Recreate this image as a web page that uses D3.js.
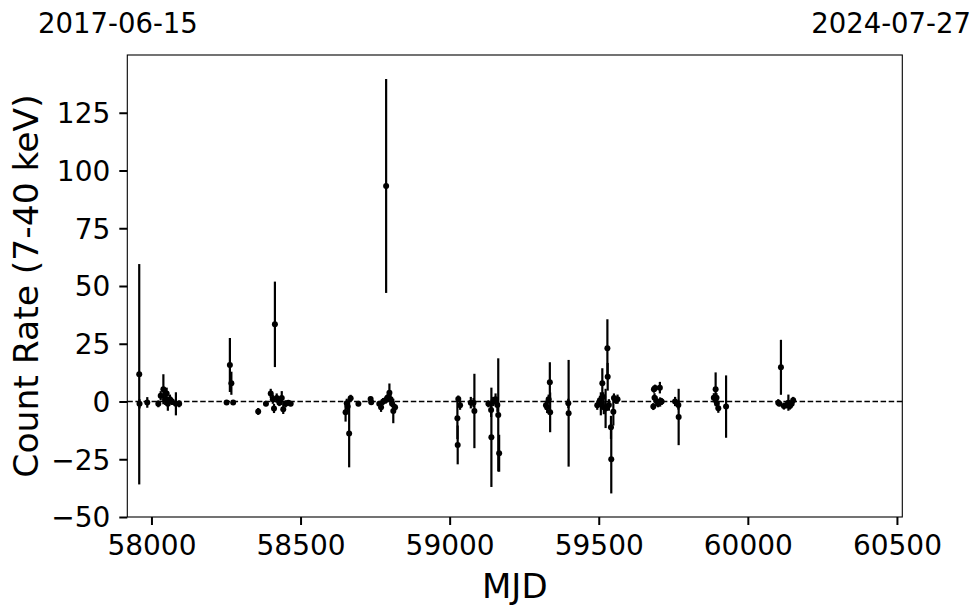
<!DOCTYPE html>
<html>
<head>
<meta charset="utf-8">
<script src="https://cdn.jsdelivr.net/npm/d3@7"></script>
<style>
  html, body { margin: 0; padding: 0; background: #fff; }
  svg { display: block; font-family: "DejaVu Sans", sans-serif; }
</style>
</head>
<body>
<svg id="chart" width="980" height="613"></svg>
<script>
// ---- data ----
const mjd = [
  57959, 57960, 57986, 58023, 58031, 58040, 58046, 58051, 58055, 58062, 58069, 58082, 58093,
  58252, 58263, 58268, 58274,
  58358, 58384, 58400, 58407, 58411, 58414, 58420, 58429, 58437, 58442, 58450, 58459, 58467,
  58651, 58655, 58658, 58663, 58668, 58694,
  58735, 58737, 58764, 58770, 58777, 58787, 58786, 58791, 58798, 58802, 58807, 58811, 58817,
  59026, 59027, 59029, 59035, 59071, 59080, 59083,
  59130, 59139, 59140, 59146, 59154, 59160, 59163, 59166,
  59323, 59327, 59332, 59336, 59337, 59398, 59399,
  59495, 59504, 59507, 59512, 59515, 59517, 59523, 59529, 59530, 59534, 59541, 59542, 59549, 59551, 59558, 59563,
  59683, 59685, 59687, 59689, 59694, 59699, 59705, 59706, 59711, 59756, 59767, 59768,
  59886, 59892, 59895, 59896, 59901, 59927,
  60102, 60106, 60111, 60121, 60130, 60136, 60141, 60147, 60152
];
const rate = [
  11.8, -1.0, -0.4, -1.0, 2.5, 5.3, 1.0, 3.5, -1.0, 1.0, 0.0, -1.0, -1.0,
  -0.4, 15.8, 7.9, -0.4,
  -4.3, -1.0, 3.5, 1.0, -3.0, 33.4, 1.5, -0.5, 1.5, -3.4, -1.0, -0.5, -1.0,
  -4.7, -0.8, -2.2, -13.8, 1.4, -1.0,
  1.1, -0.3, -1.0, -2.5, 0.0, 93.3, 0.6, 1.6, 3.8, 1.0, -1.0, -4.1, -2.5,
  -7.3, -18.8, 1.1, -1.6, -0.5, -0.5, -4.1,
  -1.0, -3.7, -15.5, 0.0, 1.0, -1.5, -5.8, -22.4,
  -1.6, -2.5, 1.0, 8.3, -4.7, -0.8, -5.1,
  -1.6, 0.5, -1.0, 7.9, 2.0, -2.5, -3.0, 23.0, 10.7, -1.5, -11.2, -25.0, -4.4, 1.5, 0.5, 1.0,
  -2.2, 5.3, 1.6, 5.8, 0.2, -1.0, 6.0, -0.2, 0.0, 0.0, -1.5, -6.7,
  1.6, 5.3, 1.6, -0.7, -2.9, -2.2,
  -0.5, -1.0, 14.8, -2.0, -1.5, -0.5, -2.0, -1.0, 0.5
];
const rateErr = [
  47.7, 2.0, 2.3, 1.5, 2.0, 6.5, 2.5, 2.5, 3.0, 2.0, 1.5, 5.0, 1.5,
  1.0, 11.7, 5.0, 1.0,
  1.5, 1.0, 2.0, 2.0, 2.0, 18.5, 2.0, 1.5, 3.0, 2.0, 1.5, 1.0, 1.0,
  4.0, 2.0, 2.5, 14.7, 1.5, 1.0,
  1.0, 1.0, 1.0, 2.0, 1.5, 46.3, 1.5, 1.5, 4.0, 2.0, 1.5, 5.3, 1.5,
  9.0, 8.4, 1.5, 2.0, 2.5, 2.0, 16.1,
  1.5, 3.0, 21.5, 2.0, 2.5, 3.0, 24.5, 8.0,
  2.0, 2.5, 2.0, 8.7, 8.6, 2.0, 23.1,
  2.0, 2.0, 5.0, 6.5, 2.0, 3.0, 8.5, 12.6, 6.0, 2.5, 5.0, 14.8, 6.0, 2.0, 1.5, 2.0,
  1.5, 1.5, 2.0, 1.5, 2.0, 1.5, 2.5, 2.0, 1.5, 2.0, 2.0, 12.2,
  2.0, 7.3, 2.0, 2.0, 2.0, 13.5,
  1.5, 1.0, 11.9, 1.5, 1.5, 3.5, 1.5, 1.5, 1.5
];
const xTicks = [58000, 58500, 59000, 59500, 60000, 60500];
const yTicks = [-50, -25, 0, 25, 50, 75, 100, 125];
const xDomain = [57919, 60518];
const yDomain = [-50, 150];
const startLabel = "2017-06-15";
const endLabel = "2024-07-27";
const xLabel = "MJD";
const yLabel = "Count Rate (7-40 keV)";

(function draw() {
  // ---- layout ----
  const pL = 127.3, pR = 902.3, pT = 55, pB = 517;
  const svg = d3.select("#chart");

  const x = d3.scaleLinear().domain(xDomain).range([pL, pR]);
  const y = d3.scaleLinear().domain(yDomain).range([pB, pT]);

  const points = mjd.map((m, i) => ({ m, r: rate[i], e: rateErr[i] }));

  // zero line
  svg.append("line")
    .attr("x1", pL).attr("x2", pR)
    .attr("y1", y(0)).attr("y2", y(0))
    .attr("stroke", "#000").attr("stroke-width", 1.6)
    .attr("stroke-dasharray", "5.5,2.6");

  // error bars
  svg.append("g").selectAll("line").data(points).join("line")
    .attr("x1", d => x(d.m)).attr("x2", d => x(d.m))
    .attr("y1", d => y(d.r - d.e)).attr("y2", d => y(d.r + d.e))
    .attr("stroke", "#000").attr("stroke-width", 2.2);

  // markers
  svg.append("g").selectAll("circle").data(points).join("circle")
    .attr("cx", d => x(d.m)).attr("cy", d => y(d.r))
    .attr("r", 3).attr("fill", "#000");

  // frame
  svg.append("rect")
    .attr("x", pL).attr("y", pT)
    .attr("width", pR - pL).attr("height", pB - pT)
    .attr("fill", "none").attr("stroke", "#000").attr("stroke-width", 1.1);

  // axes
  const xAxis = d3.axisBottom(x).tickValues(xTicks).tickSize(8).tickPadding(5).tickFormat(d3.format("d"));
  const yAxis = d3.axisLeft(y).tickValues(yTicks).tickSize(8).tickPadding(5).tickFormat(d3.format("d"));

  const gx = svg.append("g").attr("transform", `translate(0,${pB})`).call(xAxis);
  const gy = svg.append("g").attr("transform", `translate(${pL},0)`).call(yAxis);
  [gx, gy].forEach(g => {
    g.select(".domain").remove();
    g.selectAll(".tick line").attr("stroke", "#000").attr("stroke-width", 2);
    g.selectAll(".tick text").attr("fill", "#000")
      .style("font-family", "'DejaVu Sans', sans-serif").style("font-size", "28px");
  });
  gx.selectAll(".tick text").attr("dy", "0.71em").attr("y", 18);
  gy.selectAll(".tick text").attr("x", -17).attr("dy", "0.35em");

  // axis titles
  svg.append("text")
    .attr("x", (pL + pR) / 2).attr("y", 598)
    .attr("text-anchor", "middle")
    .style("font-size", "34px").attr("fill", "#000")
    .text(xLabel);

  svg.append("text")
    .attr("transform", `translate(38,${(pT + pB) / 2}) rotate(-90)`)
    .attr("text-anchor", "middle")
    .style("font-size", "34.5px").attr("fill", "#000")
    .text(yLabel);

  // top date labels
  svg.append("text").attr("x", 38).attr("y", 33)
    .attr("text-anchor", "start").style("font-size", "27.5px").attr("fill", "#000")
    .text(startLabel);
  svg.append("text").attr("x", 971).attr("y", 33)
    .attr("text-anchor", "end").style("font-size", "27.5px").attr("fill", "#000")
    .text(endLabel);
})();
</script>
</body>
</html>
